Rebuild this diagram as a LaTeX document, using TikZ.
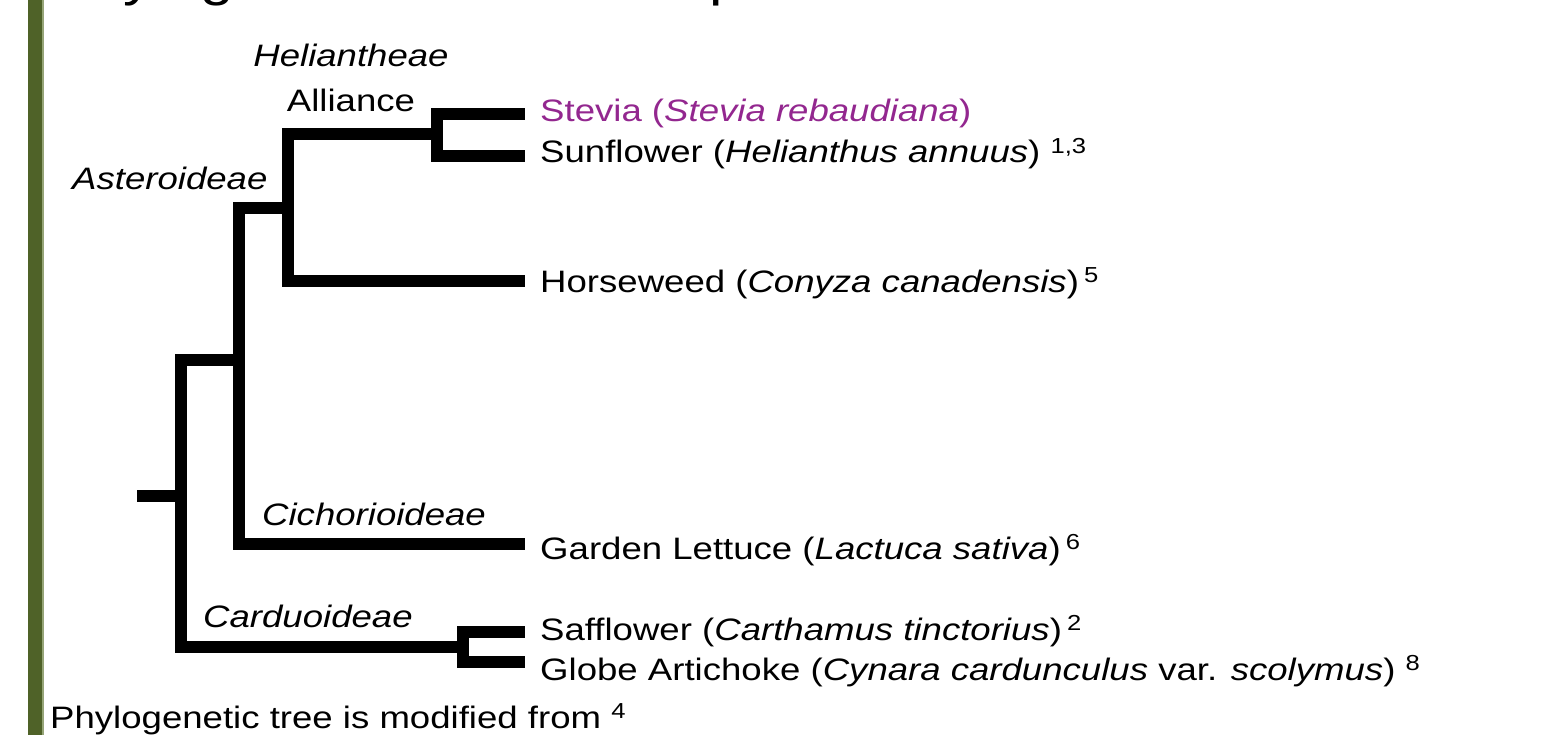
\documentclass[tikz,border=0pt]{standalone}
\usepackage{fontspec}
\setmainfont{Liberation Sans}[FakeStretch=1.18]
\definecolor{steviapurple}{RGB}{147,39,143}
\definecolor{barolive}{RGB}{79,98,40}
\definecolor{baredge}{RGB}{150,165,120}
\begin{document}
\begin{tikzpicture}[x=1pt,y=-1pt,
  branch/.style={line width=11.5pt, line join=miter, line cap=butt},
  leaf/.style={anchor=base west, inner sep=0pt, font=\fontsize{31}{37}\selectfont},
  cladelabel/.style={inner sep=0pt, font=\fontsize{31}{37}\selectfont\itshape},
  plainlabel/.style={inner sep=0pt, font=\fontsize{31}{37}\selectfont}]
\useasboundingbox (0,0) rectangle (1549,735);
\fill[white] (0,0) rectangle (1549,735);
\fill[barolive] (28,0) rectangle (42,735);
\fill[baredge] (42,0) rectangle (43.5,735);
\begin{scope}
\clip (0,0) rectangle (1549,735);
\node[anchor=base west, inner sep=0pt, font=\fontsize{51}{60}\selectfont] (title) at (50,-4) {Phylogenetic Relationships};
\end{scope}
% tree coordinates
\coordinate (rootL) at (137,496);
\coordinate (root) at (181,496);
\coordinate (ast) at (239,360);
\coordinate (card) at (463,647);
\coordinate (hel) at (288,208);
\coordinate (stevfork) at (437,134);
\coordinate (stevia) at (525,114);
\coordinate (sunflower) at (525,156);
\coordinate (horseweed) at (525,281);
\coordinate (lettuce) at (525,544);
\coordinate (safflower) at (525,632);
\coordinate (globe) at (525,662);
% branches
\draw[branch] (rootL) -- (root);
\draw[branch] (root) |- (ast);
\draw[branch] (root) |- (card);
\draw[branch] (ast) |- (hel);
\draw[branch] (ast) |- (lettuce);
\draw[branch] (hel) |- (stevfork);
\draw[branch] (hel) |- (horseweed);
\draw[branch] (stevfork) |- (stevia);
\draw[branch] (stevfork) |- (sunflower);
\draw[branch] (card) |- (safflower);
\draw[branch] (card) |- (globe);
% leaf labels
\node[leaf, text=steviapurple] (tstevia) at (540,122) {Stevia (\textit{Stevia rebaudiana})};
\node[leaf] (tsunflower) at (540,163) {Sunflower (\textit{Helianthus annuus}) \textsuperscript{1,3}};
\node[leaf] (thorseweed) at (540,292) {Horseweed (\textit{Conyza canadensis})\,\textsuperscript{5}};
\node[leaf] (tlettuce) at (540,559) {Garden Lettuce (\textit{Lactuca sativa})\,\textsuperscript{6}};
\node[leaf] (tsafflower) at (540,640) {Safflower (\textit{Carthamus tinctorius})\,\textsuperscript{2}};
\node[leaf] (tglobe) at (540,680) {Globe Artichoke (\textit{Cynara cardunculus} var. \textit{scolymus}) \textsuperscript{8}};
% clade labels
\node[cladelabel, anchor=base] (lhel) at (351,67) {Heliantheae};
\node[plainlabel, anchor=base] (lall) at (351,112) {Alliance};
\node[cladelabel, anchor=base west] (last) at (72,190) {Asteroideae};
\node[cladelabel, anchor=base west] (lcic) at (262,525) {Cichorioideae};
\node[cladelabel, anchor=base west] (lcar) at (203,627) {Carduoideae};
% caption
\node[leaf] (caption) at (50,728) {Phylogenetic tree is modified from \textsuperscript{4}};
\end{tikzpicture}
\end{document}
